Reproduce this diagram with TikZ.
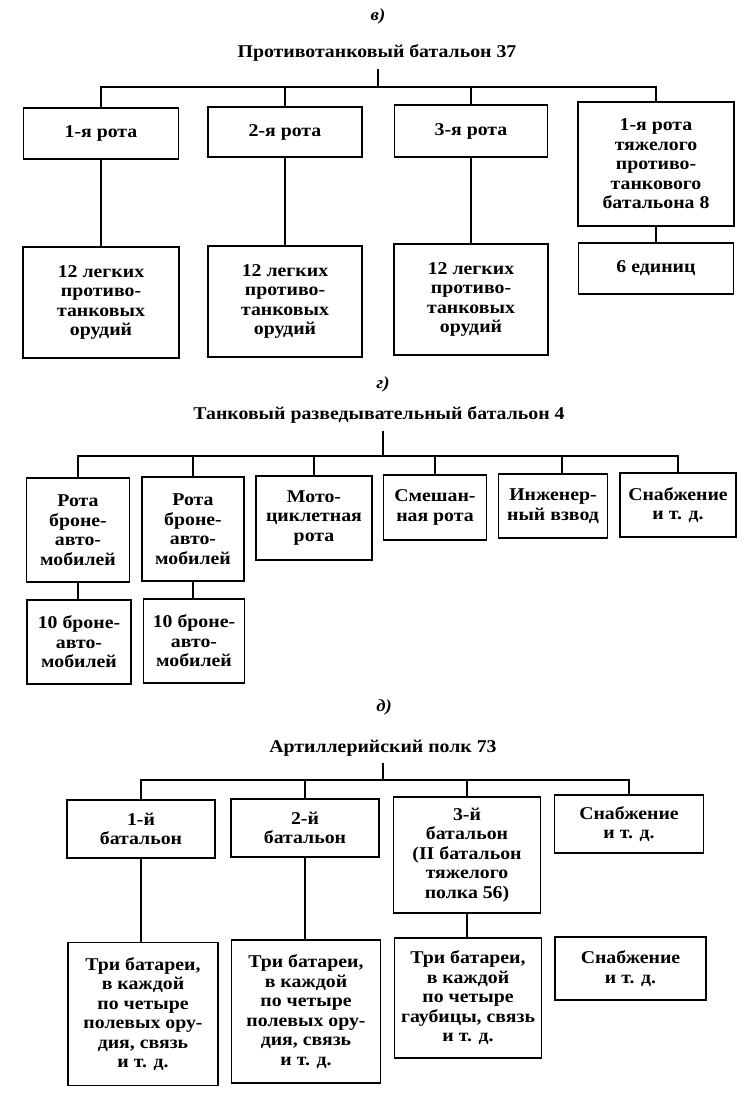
\documentclass[tikz,border=0pt]{standalone}
\usepackage{fontspec}
\newfontfamily\diag[FakeStretch=1.1]{Liberation Serif}
\begin{document}
\begin{tikzpicture}[x=1pt,y=-1pt,
  box/.style={draw, line width=1.8pt, align=center, inner sep=0pt,
    font=\diag\bfseries\fontsize{18}{19.5}\selectfont},
  ttl/.style={inner xsep=0pt, inner ysep=7pt, font=\diag\bfseries\fontsize{18}{19.5}\selectfont},
  lbl/.style={inner sep=0pt, font=\diag\bfseries\itshape\fontsize{17}{17}\selectfont},
  conn/.style={line width=1.8pt}]
\fill[white] (0,0) rectangle (750,1115);
\useasboundingbox (0,0) rectangle (750,1115);

% ---------- section v ----------
\node[lbl] (l1) at (378,16) {в)};
\node[ttl] (t1) at (377,53) {Противотанковый батальон 37};
\coordinate (j1) at (378,87);
\node[box, minimum width=155pt, minimum height=51pt] (a1) at (101,133.5) {1-я рота};
\node[box, minimum width=154pt, minimum height=50pt] (a2) at (285,132) {2-я рота};
\node[box, minimum width=153pt, minimum height=52pt] (a3) at (471,131) {3-я рота};
\node[box, minimum width=156pt, minimum height=124pt] (a4) at (656,164) {1-я рота\\тяжелого\\противо-\\танкового\\батальона 8};
\node[box, minimum width=156pt, minimum height=111pt] (b1) at (101,302.5) {12 легких\\противо-\\танковых\\орудий};
\node[box, minimum width=154pt, minimum height=111pt] (b2) at (285,301.5) {12 легких\\противо-\\танковых\\орудий};
\node[box, minimum width=154pt, minimum height=111pt] (b3) at (471,299.5) {12 легких\\противо-\\танковых\\орудий};
\node[box, minimum width=155pt, minimum height=51pt] (b4) at (656,268.5) {6 единиц};
\draw[conn] (j1 |- t1.south) -- (j1);
\draw[conn] (a1.north) |- (j1) -| (a4.north);
\draw[conn] (a2.north) -- (a2.north |- j1);
\draw[conn] (a3.north) -- (a3.north |- j1);
\draw[conn] (a1.south) -- (b1.north);
\draw[conn] (a2.south) -- (b2.north);
\draw[conn] (a3.south) -- (b3.north);
\draw[conn] (a4.south) -- (b4.north);

% ---------- section g ----------
\node[lbl] (l2) at (383,384) {г)};
\node[ttl] (t2) at (379,415) {Танковый разведывательный батальон 4};
\coordinate (j2) at (383,456);
\node[box, minimum width=103pt, minimum height=104pt] (c1) at (78,530) {Рота\\броне-\\авто-\\мобилей};
\node[box, minimum width=102pt, minimum height=104pt] (c2) at (193,529) {Рота\\броне-\\авто-\\мобилей};
\node[box, minimum width=116pt, minimum height=84pt] (c3) at (314,518) {Мото-\\циклетная\\рота};
\node[box, minimum width=103pt, minimum height=65pt] (c4) at (435,507.5) {Смешан-\\ная рота};
\node[box, minimum width=109pt, minimum height=64pt] (c5) at (553,506) {Инженер-\\ный взвод};
\node[box, minimum width=116pt, minimum height=64pt] (c6) at (678,505) {Снабжение\\и т. д.};
\node[box, minimum width=104pt, minimum height=84pt] (d1) at (79,642) {10 броне-\\авто-\\мобилей};
\node[box, minimum width=101pt, minimum height=84pt] (d2) at (194,641) {10 броне-\\авто-\\мобилей};
\draw[conn] (j2 |- t2.south) -- (j2);
\draw[conn] (c1.north) |- (j2) -| (c6.north);
\draw[conn] (c2.north) -- (c2.north |- j2);
\draw[conn] (c3.north) -- (c3.north |- j2);
\draw[conn] (c4.north) -- (c4.north |- j2);
\draw[conn] ([xshift=9pt]c5.north) -- ([xshift=9pt]c5.north |- j2);
\draw[conn] (c1.south) -- (d1.north -| c1.south);
\draw[conn] (c2.south) -- (d2.north -| c2.south);

% ---------- section d ----------
\node[lbl] (l3) at (384,707) {д)};
\node[ttl] (t3) at (383,748) {Артиллерийский полк 73};
\coordinate (j3) at (383,780);
\node[box, minimum width=148pt, minimum height=58pt] (e1) at (141,829) {1-й\\батальон};
\node[box, minimum width=148pt, minimum height=58pt] (e2) at (305,828) {2-й\\батальон};
\node[box, minimum width=147pt, minimum height=116pt] (e3) at (467,855) {3-й\\батальон\\(II батальон\\тяжелого\\полка 56)};
\node[box, minimum width=149pt, minimum height=58pt] (e4) at (629,824) {Снабжение\\и т. д.};
\node[box, minimum width=150pt, minimum height=143pt] (f1) at (143,1014) {Три батареи,\\в каждой\\по четыре\\полевых ору-\\дия, связь\\и т. д.};
\node[box, minimum width=149pt, minimum height=143pt] (f2) at (306,1011.5) {Три батареи,\\в каждой\\по четыре\\полевых ору-\\дия, связь\\и т. д.};
\node[box, minimum width=147pt, minimum height=120pt] (f3) at (468,998) {Три батареи,\\в каждой\\по четыре\\гаубицы, связь\\и т. д.};
\node[box, minimum width=151pt, minimum height=63pt] (f4) at (630.5,968.5) {Снабжение\\и т. д.};
\draw[conn] (j3 |- t3.south) -- (j3);
\draw[conn] (e1.north) |- (j3) -| (e4.north);
\draw[conn] (e2.north) -- (e2.north |- j3);
\draw[conn] (e3.north) -- (e3.north |- j3);
\draw[conn] (e1.south) -- (f1.north -| e1.south);
\draw[conn] (e2.south) -- (f2.north -| e2.south);
\draw[conn] (e3.south) -- (f3.north -| e3.south);
\end{tikzpicture}
\end{document}
